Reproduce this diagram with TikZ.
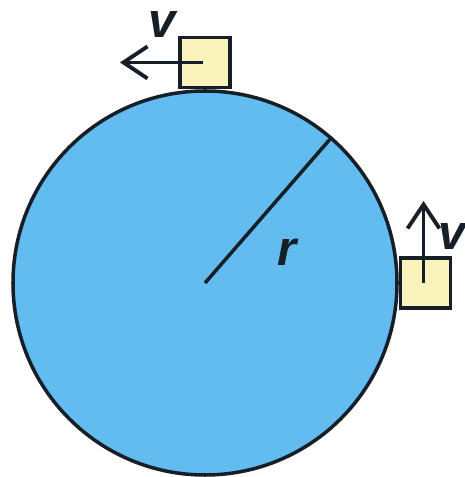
\documentclass[tikz,border=0pt]{standalone}
\usepackage{fontspec}
\setmainfont{Liberation Sans}
\usepackage{tikz}
\usetikzlibrary{arrows.meta,positioning,calc}
\definecolor{wheelblue}{RGB}{98,188,240}
\definecolor{boxyellow}{RGB}{250,244,188}
\definecolor{inkdark}{RGB}{22,30,40}

\begin{document}
\begin{tikzpicture}[
    wheel/.style={circle, draw=inkdark, line width=1pt, fill=wheelblue, minimum size=3.84cm, inner sep=0pt},
    block/.style={draw=inkdark, line width=1pt, fill=boxyellow, minimum size=0.5cm, inner sep=0pt},
    vel/.style={line width=1.1pt, draw=inkdark, -{Straight Barb[length=2.4mm, width=3.2mm]}},
    lbl/.style={font=\fontsize{14}{14}\selectfont\bfseries\itshape, text=inkdark, inner sep=0pt}
]
\useasboundingbox (0,0) rectangle (4.64,4.77);

\node[wheel] (disc) at (2.05, 1.94) {};
\node[block, anchor=south] (btop) at (disc.north) {};
\node[block, anchor=west] (bside) at (disc.east) {};

% radius
\draw[inkdark, line width=1pt] (disc.center) -- (disc.49);
\node[lbl] (r) at (2.87, 2.25) {r};

% velocities
\coordinate (vtop) at ($(btop.center)+(-0.85,0)$);
\coordinate (vside) at ($(bside.center)+(-0.02,0.82)$);
\draw[vel] ($(btop.center)+(-0.02,0)$) -- (vtop);
\draw[vel] ($(bside.center)+(-0.02,0)$) -- (vside);
\node[lbl] (v1) at (1.62, 4.52) {v};
\node[lbl] (v2) at (4.52, 2.40) {v};
\end{tikzpicture}
\end{document}
